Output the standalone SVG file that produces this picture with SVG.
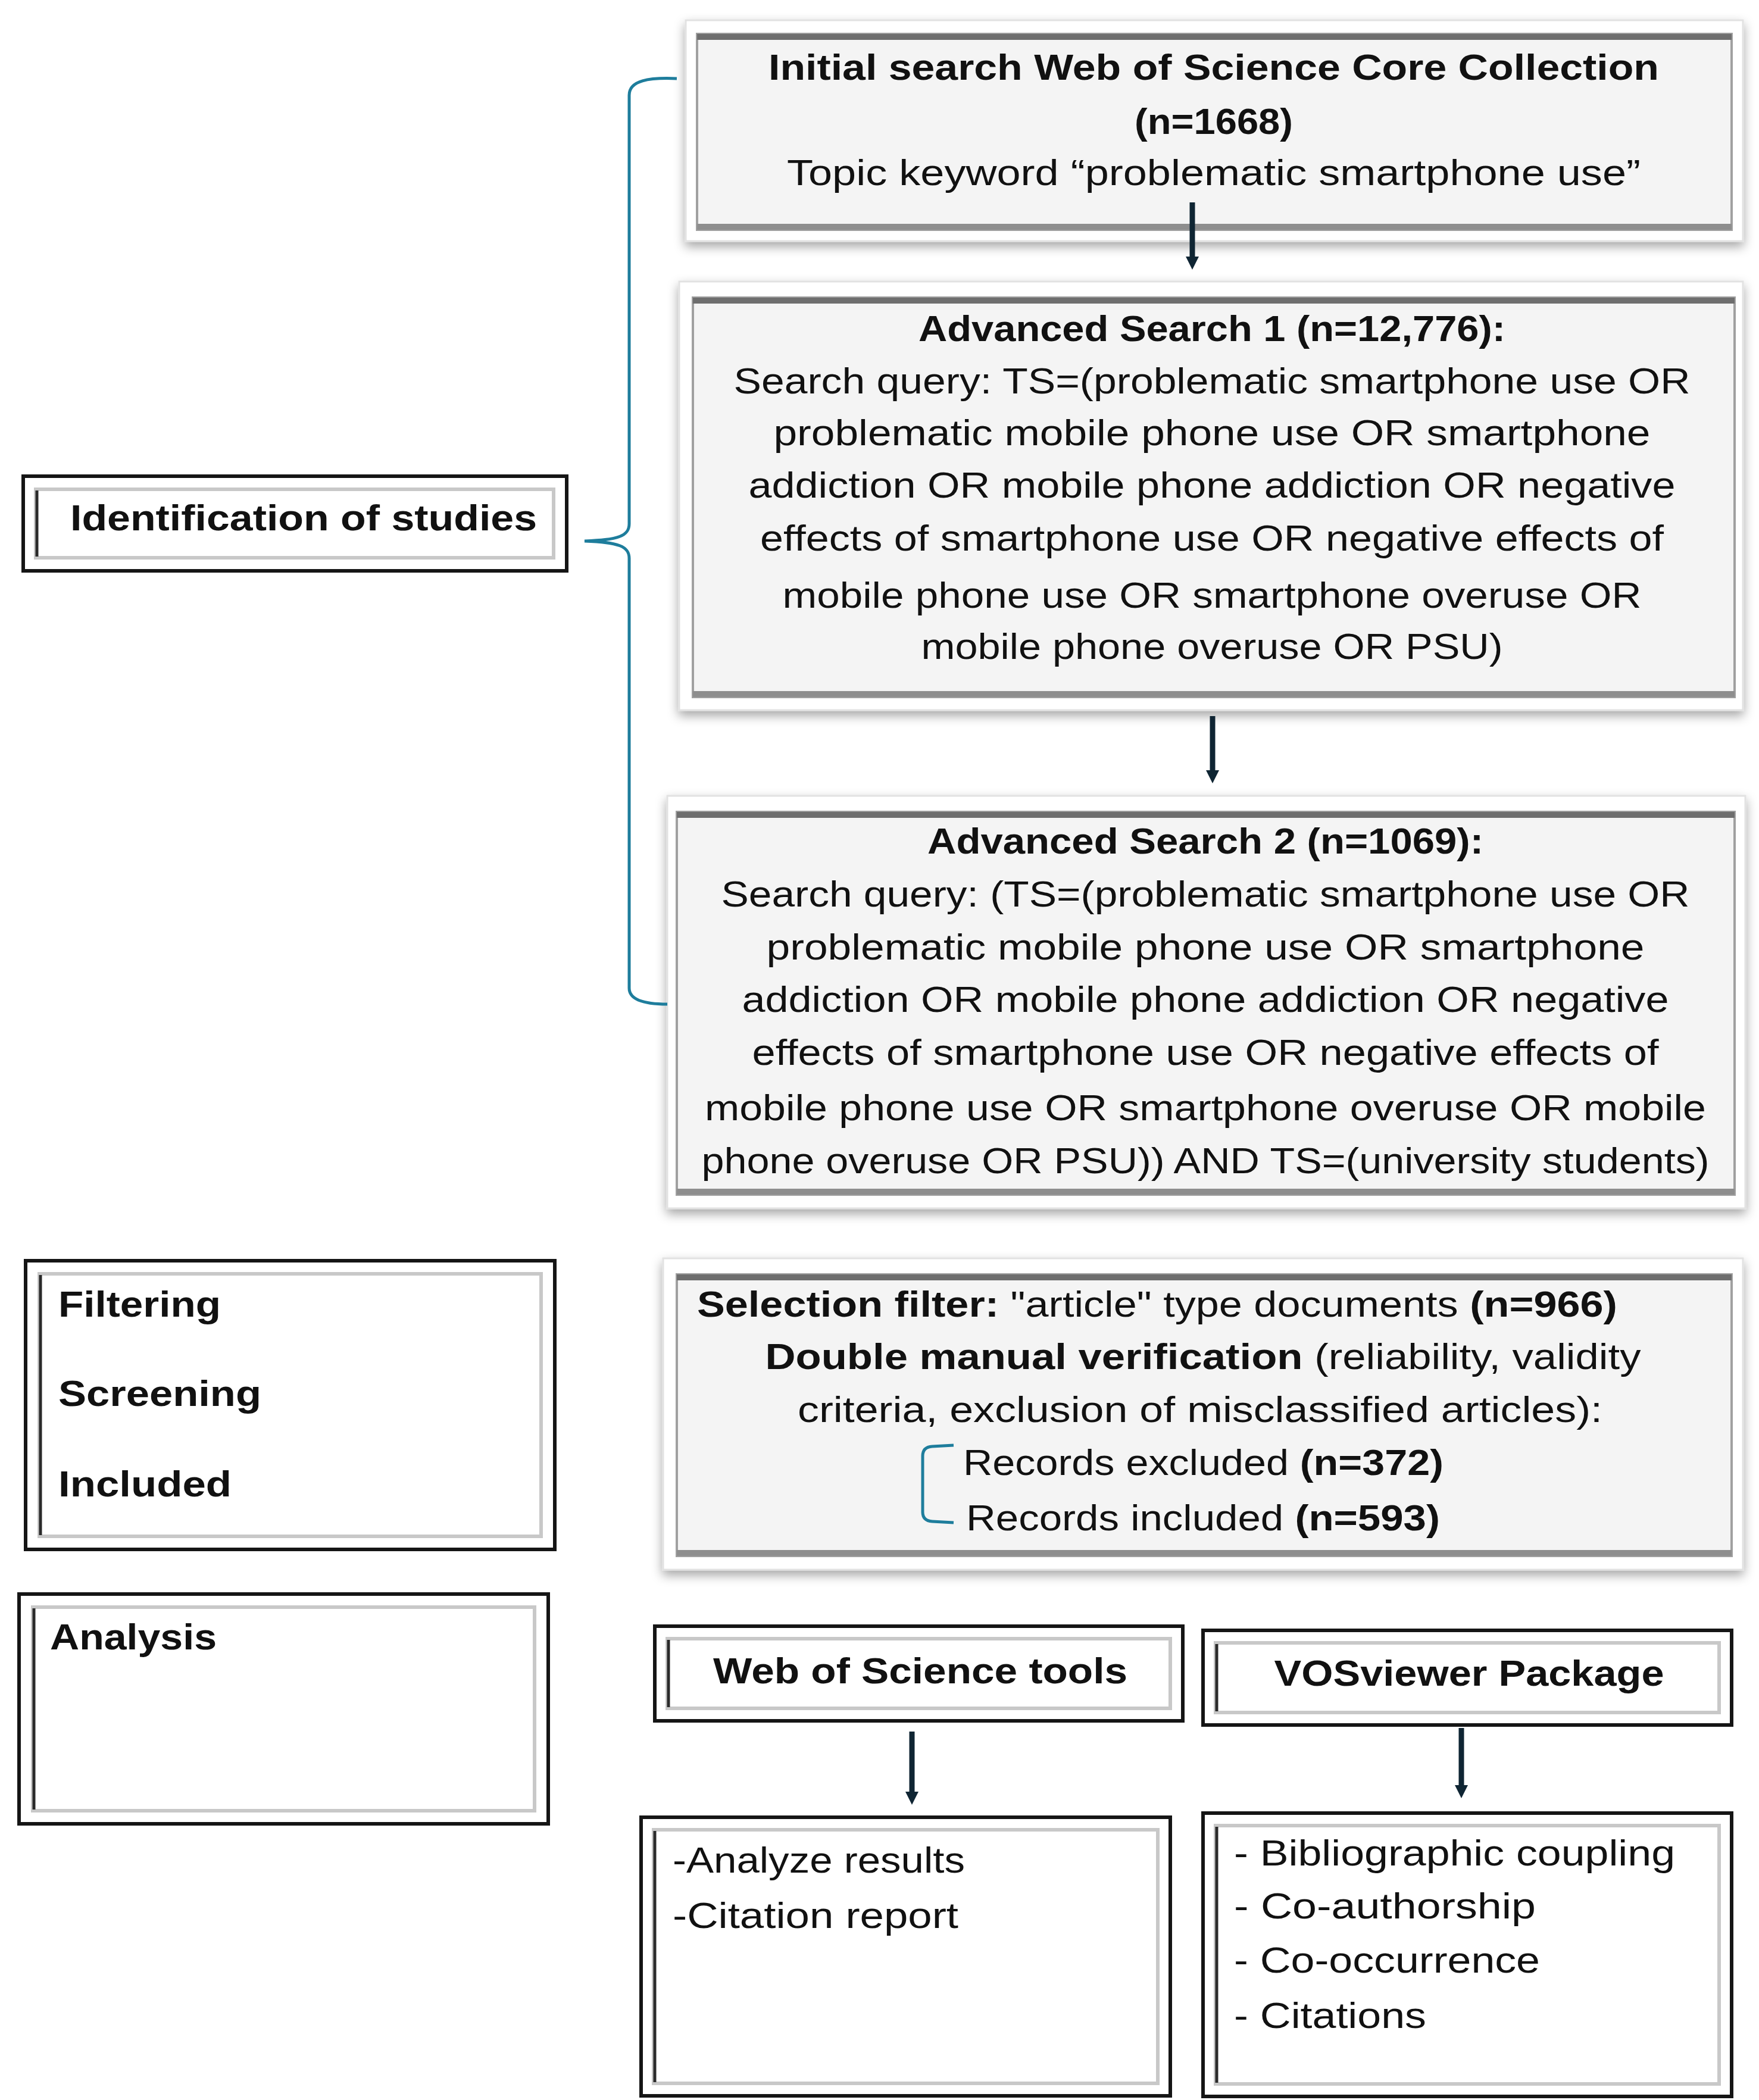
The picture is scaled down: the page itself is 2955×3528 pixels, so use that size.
<svg xmlns="http://www.w3.org/2000/svg" width="2955" height="3528" viewBox="0 0 2955 3528">
<style>
text{font-family:"Liberation Sans",Arial,sans-serif;font-size:62px;fill:#111;}
.b{font-weight:bold;}
.c{text-anchor:middle;}
.gshell{fill:#ffffff;stroke:#e2e2e2;stroke-width:3;filter:url(#sh);}
.ginner{fill:#f4f4f4;stroke:#a0a0a0;stroke-width:4;}
.gtop{stroke:#6e6e6e;stroke-width:10;}
.gbot{stroke:#8e8e8e;stroke-width:10;}
.kout{fill:#ffffff;stroke:#151515;stroke-width:6;}
.kin{fill:none;stroke:#c8c8c8;stroke-width:6;}
.kleft{stroke:#2a2a2a;stroke-width:5;}
.arr{stroke:#0f2533;stroke-width:9;fill:none;marker-end:url(#ah);}
.br{stroke:#1e7d9c;stroke-width:5;fill:none;}
</style>
<defs>
<filter id="sh" x="-5%" y="-10%" width="110%" height="125%">
<feGaussianBlur in="SourceAlpha" stdDeviation="9"/>
<feOffset dx="0" dy="8" result="o"/>
<feFlood flood-color="#000" flood-opacity="0.35"/>
<feComposite in2="o" operator="in"/>
<feMerge><feMergeNode/><feMergeNode in="SourceGraphic"/></feMerge>
</filter>
<marker id="ah" markerUnits="userSpaceOnUse" markerWidth="30" markerHeight="30" refX="12" refY="15" orient="auto">
<path d="M0,4 L22,15 L0,26 Z" fill="#0f2533"/>
</marker>
</defs>
<rect width="2955" height="3528" fill="#ffffff"/>

<g id="initial-search">
<rect class="gshell" x="1152" y="34" width="1776" height="371"/>
<rect class="ginner" x="1171" y="57" width="1738" height="329"/>
<line class="gtop" x1="1171" y1="62" x2="2909" y2="62"/>
<line class="gbot" x1="1171" y1="381" x2="2909" y2="381"/>
<text class="b c" x="2039" y="134" textLength="1496" lengthAdjust="spacingAndGlyphs">Initial search Web of Science Core Collection</text>
<text class="b c" x="2039" y="225" textLength="266" lengthAdjust="spacingAndGlyphs">(n=1668)</text>
<text class="c" x="2039" y="311" textLength="1434" lengthAdjust="spacingAndGlyphs">Topic keyword “problematic smartphone use”</text>
</g>

<g id="advanced-search-1">
<rect class="gshell" x="1141" y="473" width="1787" height="720"/>
<rect class="ginner" x="1164" y="500" width="1750" height="671"/>
<line class="gtop" x1="1164" y1="505" x2="2914" y2="505"/>
<line class="gbot" x1="1164" y1="1166" x2="2914" y2="1166"/>
<text class="b c" x="2036" y="573" textLength="986" lengthAdjust="spacingAndGlyphs">Advanced Search 1 (n=12,776):</text>
<text class="c" x="2036" y="661" textLength="1607" lengthAdjust="spacingAndGlyphs">Search query: TS=(problematic smartphone use OR</text>
<text class="c" x="2036" y="748" textLength="1473" lengthAdjust="spacingAndGlyphs">problematic mobile phone use OR smartphone</text>
<text class="c" x="2036" y="836" textLength="1557" lengthAdjust="spacingAndGlyphs">addiction OR mobile phone addiction OR negative</text>
<text class="c" x="2036" y="925" textLength="1518" lengthAdjust="spacingAndGlyphs">effects of smartphone use OR negative effects of</text>
<text class="c" x="2036" y="1021" textLength="1443" lengthAdjust="spacingAndGlyphs">mobile phone use OR smartphone overuse OR</text>
<text class="c" x="2036" y="1107" textLength="977" lengthAdjust="spacingAndGlyphs">mobile phone overuse OR PSU)</text>
</g>

<g id="advanced-search-2">
<rect class="gshell" x="1121" y="1337" width="1811" height="693"/>
<rect class="ginner" x="1137" y="1364" width="1777" height="643"/>
<line class="gtop" x1="1137" y1="1369" x2="2914" y2="1369"/>
<line class="gbot" x1="1137" y1="2002" x2="2914" y2="2002"/>
<text class="b c" x="2025" y="1434" textLength="934" lengthAdjust="spacingAndGlyphs">Advanced Search 2 (n=1069):</text>
<text class="c" x="2025" y="1523" textLength="1627" lengthAdjust="spacingAndGlyphs">Search query: (TS=(problematic smartphone use OR</text>
<text class="c" x="2025" y="1612" textLength="1475" lengthAdjust="spacingAndGlyphs">problematic mobile phone use OR smartphone</text>
<text class="c" x="2025" y="1700" textLength="1557" lengthAdjust="spacingAndGlyphs">addiction OR mobile phone addiction OR negative</text>
<text class="c" x="2025" y="1789" textLength="1523" lengthAdjust="spacingAndGlyphs">effects of smartphone use OR negative effects of</text>
<text class="c" x="2025" y="1882" textLength="1682" lengthAdjust="spacingAndGlyphs">mobile phone use OR smartphone overuse OR mobile</text>
<text class="c" x="2025" y="1971" textLength="1693" lengthAdjust="spacingAndGlyphs">phone overuse OR PSU)) AND TS=(university students)</text>
</g>

<g id="selection">
<rect class="gshell" x="1114" y="2114" width="1814" height="523"/>
<rect class="ginner" x="1137" y="2141" width="1772" height="473"/>
<line class="gtop" x1="1137" y1="2146" x2="2909" y2="2146"/>
<line class="gbot" x1="1137" y1="2609" x2="2909" y2="2609"/>
<text x="1171" y="2212" textLength="1546" lengthAdjust="spacingAndGlyphs"><tspan class="b">Selection filter:</tspan> "article" type documents <tspan class="b">(n=966)</tspan></text>
<text class="c" x="2021" y="2300" textLength="1471" lengthAdjust="spacingAndGlyphs"><tspan class="b">Double manual verification</tspan> (reliability, validity</text>
<text class="c" x="2016" y="2389" textLength="1352" lengthAdjust="spacingAndGlyphs">criteria, exclusion of misclassified articles):</text>
<path class="br" d="M1602,2428 L1566,2430 Q1550,2431 1550,2446 L1550,2540 Q1550,2555 1566,2556 L1602,2558"/>
<text x="1618" y="2478" textLength="807" lengthAdjust="spacingAndGlyphs">Records excluded <tspan class="b">(n=372)</tspan></text>
<text x="1623" y="2571" textLength="796" lengthAdjust="spacingAndGlyphs">Records included <tspan class="b">(n=593)</tspan></text>
</g>

<g id="identification">
<rect class="kout" x="39" y="800" width="913" height="159"/>
<rect class="kin" x="60" y="822" width="870" height="115"/>
<line class="kleft" x1="62" y1="824" x2="62" y2="935"/>
<text class="b" x="118" y="891" textLength="784" lengthAdjust="spacingAndGlyphs">Identification of studies</text>
</g>

<g id="stages">
<rect class="kout" x="43" y="2118" width="889" height="485"/>
<rect class="kin" x="66" y="2140" width="843" height="441"/>
<line class="kleft" x1="68" y1="2142" x2="68" y2="2579"/>
<text class="b" x="98" y="2212" textLength="273" lengthAdjust="spacingAndGlyphs">Filtering</text>
<text class="b" x="98" y="2362" textLength="341" lengthAdjust="spacingAndGlyphs">Screening</text>
<text class="b" x="98" y="2514" textLength="291" lengthAdjust="spacingAndGlyphs">Included</text>
</g>

<g id="analysis">
<rect class="kout" x="32" y="2678" width="889" height="386"/>
<rect class="kin" x="55" y="2700" width="843" height="342"/>
<line class="kleft" x1="57" y1="2702" x2="57" y2="3040"/>
<text class="b" x="84" y="2771" textLength="280" lengthAdjust="spacingAndGlyphs">Analysis</text>
</g>

<g id="wos-tools">
<rect class="kout" x="1100" y="2732" width="887" height="159"/>
<rect class="kin" x="1121" y="2753" width="845" height="117"/>
<line class="kleft" x1="1123" y1="2755" x2="1123" y2="2868"/>
<text class="b c" x="1546" y="2828" textLength="696" lengthAdjust="spacingAndGlyphs">Web of Science tools</text>
</g>

<g id="vosviewer">
<rect class="kout" x="2021" y="2739" width="888" height="159"/>
<rect class="kin" x="2042" y="2760" width="846" height="117"/>
<line class="kleft" x1="2044" y1="2762" x2="2044" y2="2875"/>
<text class="b c" x="2468" y="2832" textLength="655" lengthAdjust="spacingAndGlyphs">VOSviewer Package</text>
</g>

<g id="wos-outputs">
<rect class="kout" x="1077" y="3053" width="889" height="468"/>
<rect class="kin" x="1098" y="3074" width="847" height="426"/>
<line class="kleft" x1="1100" y1="3076" x2="1100" y2="3498"/>
<text x="1130" y="3146" textLength="491" lengthAdjust="spacingAndGlyphs">-Analyze results</text>
<text x="1130" y="3239" textLength="480" lengthAdjust="spacingAndGlyphs">-Citation report</text>
</g>

<g id="vos-outputs">
<rect class="kout" x="2021" y="3046" width="888" height="476"/>
<rect class="kin" x="2042" y="3067" width="846" height="434"/>
<line class="kleft" x1="2044" y1="3069" x2="2044" y2="3499"/>
<text x="2073" y="3134" textLength="741" lengthAdjust="spacingAndGlyphs">- Bibliographic coupling</text>
<text x="2073" y="3223" textLength="507" lengthAdjust="spacingAndGlyphs">- Co-authorship</text>
<text x="2073" y="3314" textLength="514" lengthAdjust="spacingAndGlyphs">- Co-occurrence</text>
<text x="2073" y="3407" textLength="323" lengthAdjust="spacingAndGlyphs">- Citations</text>
</g>

<g id="connectors">
<path class="br" d="M1137,132 C1090,130 1057,135 1057,160 L1057,880 C1057,900 1040,907 982,909 C1040,911 1057,918 1057,938 L1057,1660 C1057,1682 1090,1687 1121,1687"/>
<line class="arr" x1="2003" y1="340" x2="2003" y2="443"/>
<line class="arr" x1="2037" y1="1203" x2="2037" y2="1306"/>
<line class="arr" x1="1532" y1="2909" x2="1532" y2="3022"/>
<line class="arr" x1="2455" y1="2903" x2="2455" y2="3011"/>
</g>
</svg>
